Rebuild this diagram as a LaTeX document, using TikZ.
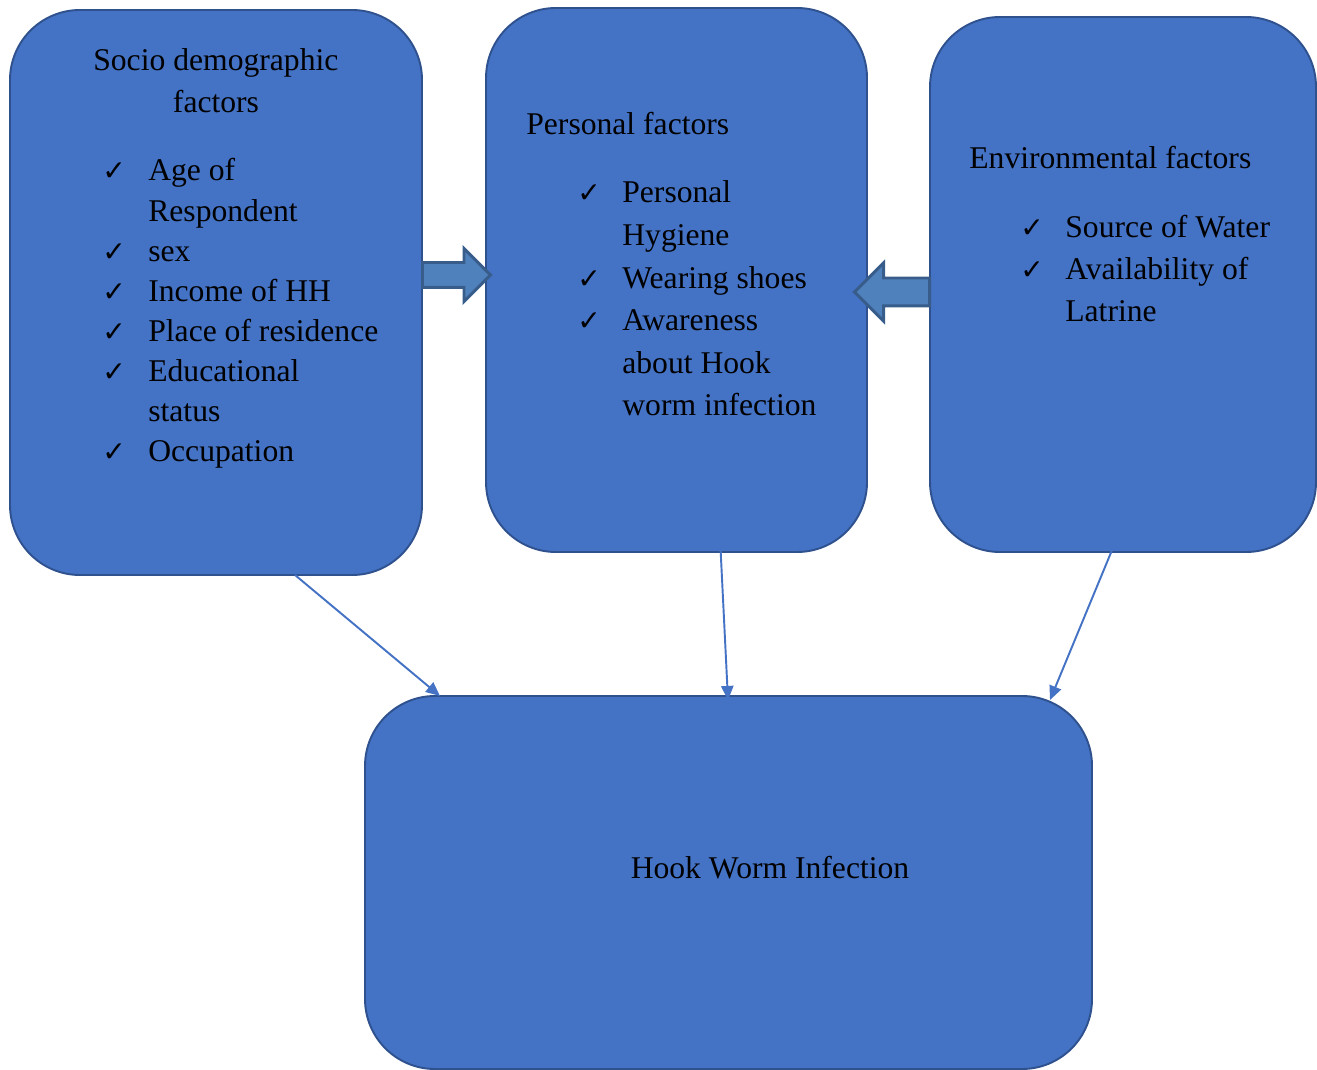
\documentclass[tikz,border=0pt]{standalone}
\usepackage{fontspec}
\setmainfont{Liberation Serif}
\newfontfamily\tickfont{DejaVu Sans}
\usetikzlibrary{arrows.meta,positioning,fit,shapes.arrows}
\definecolor{hwFill} {HTML}{4472C4}
\definecolor{hwEdge} {HTML}{2F528F}
\definecolor{hwArrow}{HTML}{4F81BD}
\definecolor{hwArEdge}{HTML}{385D8A}
\newcommand{\tick}{{\tickfont\fontsize{16}{16}\selectfont ✓}}

\begin{document}
\begin{tikzpicture}[x=0.02cm,y=-0.02cm,
    font=\fontsize{18}{22.8}\selectfont,
    factorbox/.style={draw=hwEdge,fill=hwFill,line width=1.1pt,
      rounded corners=1.4cm,inner sep=0pt},
    fatarrow/.style={single arrow,draw=hwArEdge,fill=hwArrow,line width=1.7pt,
      inner xsep=0pt,single arrow head indent=0pt},
    thinarrow/.style={hwFill,line width=1.1pt,-{Triangle[length=8pt,width=7pt]}}]
  \useasboundingbox (0,0) rectangle (1317,1070);

  % the four boxes
  \node[factorbox,fit={(10,10) (422,575)}] (socio) {};
  \node[factorbox,fit={(486,8) (867,552)}] (personal) {};
  \node[factorbox,fit={(930,17) (1316,552)}] (environ) {};
  \node[factorbox,fit={(365,696) (1092,1069)}] (hook) {};

  % box texts
  \node[anchor=base west,inner sep=0pt] (sociohead1) at (93,71) {Socio demographic};
  \node[anchor=base,inner sep=0pt] (sociohead2) at (216,113) {factors};
  \node[anchor=base west,inner sep=0pt] (sociolist) at (102,181) {%
    \begin{tabular}[t]{@{}p{0.92cm}@{}l@{}}
      \tick & Age of\\
            & Respondent\\
      \tick & sex\\
      \tick & Income of HH\\
      \tick & Place of residence\\
      \tick & Educational\\
            & status\\
      \tick & Occupation
    \end{tabular}};

  \node[anchor=base west,inner sep=0pt] (personalhead) at (526,135) {Personal factors};
  \node[anchor=base west,inner sep=0pt] (personallist) at (577,203) {%
    \fontsize{18}{24.2}\selectfont
    \begin{tabular}[t]{@{}p{0.9cm}@{}l@{}}
      \tick & Personal\\
            & Hygiene\\
      \tick & Wearing shoes\\
      \tick & Awareness\\
            & about Hook\\
            & worm infection
    \end{tabular}};

  \node[anchor=base west,inner sep=0pt] (environhead) at (969,169) {Environmental factors};
  \node[anchor=base west,inner sep=0pt] (environlist) at (1020,238) {%
    \fontsize{18}{23.9}\selectfont
    \begin{tabular}[t]{@{}p{0.9cm}@{}l@{}}
      \tick & Source of Water\\
      \tick & Availability of\\
            & Latrine
    \end{tabular}};

  \node[anchor=base] (hooktext) at (770,878) {Hook Worm Infection};

  % block arrows into the personal box
  \node[fatarrow,anchor=tail,minimum height=1.36cm,minimum width=1cm,inner ysep=0.22cm,
        single arrow head extend=0.28cm] (sociotopers) at (421,275) {};
  \node[fatarrow,anchor=tail,shape border rotate=180,minimum height=1.5cm,minimum width=1.1cm,
        inner ysep=0.25cm,single arrow head extend=0.3cm] (envtopers) at (931,292) {};

  % thin arrows down to the outcome
  \coordinate (sociofoot) at (295,575);
  \coordinate (personalfoot) at (720,538);
  \coordinate (environfoot) at (1117,538);
  \coordinate (hookin1) at (440,696);
  \coordinate (hookin2) at (728,700);
  \coordinate (hookin3) at (1050,700);
  \draw[thinarrow] (sociofoot) -- (hookin1);
  \draw[thinarrow] (personalfoot) -- (hookin2);
  \draw[thinarrow] (environfoot) -- (hookin3);
\end{tikzpicture}
\end{document}
